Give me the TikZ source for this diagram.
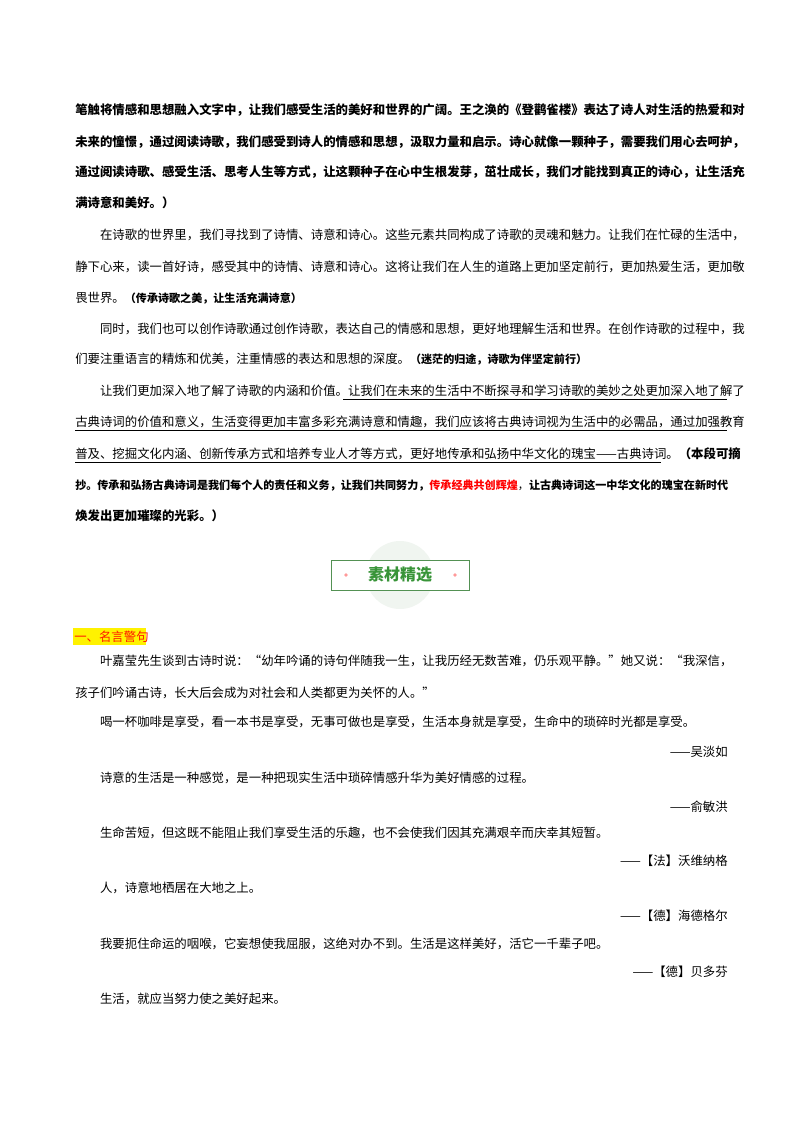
\documentclass[tikz,border=0pt]{standalone}
\usepackage{fontspec}
\setmainfont{Noto Sans CJK SC}
\XeTeXlinebreaklocale "zh"
\XeTeXlinebreakskip=0pt plus 2pt minus 0.2pt
\newcommand\FL[2]{\node[anchor=base west,inner sep=0pt] at (75,#1) {\hbox to 489.75pt{#2}};}
\newcommand\PL[2]{\node[anchor=base west,inner sep=0pt] at (75,#1) {#2};}
\newcommand\AU[2]{\node[anchor=base east,inner sep=0pt] at (728,#1) {#2};}
\begin{document}
\begin{tikzpicture}[x=0.75pt,y=-0.75pt,every node/.style={font=\fontsize{9.3pt}{11pt}\selectfont}]
\useasboundingbox[fill=white] (0,0) rectangle (800,1132);
% paragraph 1 (bold)
\FL{114}{\bfseries 笔触将情感和思想融入文字中，让我们感受生活的美好和世界的广阔。王之涣的《登鹳雀楼》表达了诗人对生活的热爱和对}
\FL{146}{\bfseries 未来的憧憬，通过阅读诗歌，我们感受到诗人的情感和思想，汲取力量和启示。诗心就像一颗种子，需要我们用心去呵护，}
\FL{176}{\bfseries 通过阅读诗歌、感受生活、思考人生等方式，让这颗种子在心中生根发芽，茁壮成长，我们才能找到真正的诗心，让生活充}
\PL{207}{\bfseries 满诗意和美好。）}
% paragraph 2
\FL{239}{\hskip 2em 在诗歌的世界里，我们寻找到了诗情、诗意和诗心。这些元素共同构成了诗歌的灵魂和魅力。让我们在忙碌的生活中，}
\FL{271}{静下心来，读一首好诗，感受其中的诗情、诗意和诗心。这将让我们在人生的道路上更加坚定前行，更加热爱生活，更加敬}
\PL{302}{畏世界。{\bfseries\fontsize{8.3pt}{10pt}\selectfont （传承诗歌之美，让生活充满诗意）}}
% paragraph 3
\FL{333}{\hskip 2em 同时，我们也可以创作诗歌通过创作诗歌，表达自己的情感和思想，更好地理解生活和世界。在创作诗歌的过程中，我}
\PL{363}{们要注重语言的精炼和优美，注重情感的表达和思想的深度。{\bfseries\fontsize{8.3pt}{10pt}\selectfont （迷茫的归途，诗歌为伴坚定前行）}}
% paragraph 4
\FL{395}{\hskip 2em 让我们更加深入地了解了诗歌的内涵和价值。让我们在未来的生活中不断探寻和学习诗歌的美妙之处更加深入地了解了}
\FL{426}{古典诗词的价值和意义，生活变得更加丰富多彩充满诗意和情趣，我们应该将古典诗词视为生活中的必需品，通过加强教育}
\FL{458}{普及、挖掘文化内涵、创新传承方式和培养专业人才等方式，更好地传承和弘扬中华文化的瑰宝——古典诗词。\bfseries （本段可摘}
\FL{489}{\fontsize{8.3pt}{11pt}\selectfont\bfseries 抄。传承和弘扬古典诗词是我们每个人的责任和义务，让我们共同努力，\textcolor{red}{传承经典共创辉煌}\mdseries ，\bfseries 让古典诗词这一中华文化的瑰宝在新时代}
\PL{520}{\bfseries 焕发出更加璀璨的光彩。）}
\draw[line width=0.6pt] (343,399) -- (727,399);
\draw[line width=0.6pt] (75,430) -- (727,430);
\draw[line width=0.6pt] (75,462) -- (661,462);
% heading
\fill[green!35!black,opacity=0.06] (400,575) circle (34);
\node[draw=black!30!green!35!gray,line width=0.7pt,fill=white,minimum width=103.5pt,minimum height=22.5pt,inner sep=0pt] (hd) at (400,575) {};
\node[text=green!45!gray!80!black,font=\fontsize{12pt}{14pt}\selectfont\bfseries] (ht) at (400,575) {素材精选};
\fill[red!40] (346,575) circle (1.8);
\fill[red!40] (455,575) circle (1.8);
% section title
\fill[yellow] (73,628) rectangle (146,645);
\node[anchor=base west,inner sep=0pt,text=red!80!orange] (st) at (74,641) {一、名言警句};
% quotes
\FL{665}{\hskip 2em 叶嘉莹先生谈到古诗时说：“幼年吟诵的诗句伴随我一生，让我历经无数苦难，仍乐观平静。”她又说：“我深信，}
\PL{697}{孩子们吟诵古诗，长大后会成为对社会和人类都更为关怀的人。”}
\PL{726}{\hskip 2em 喝一杯咖啡是享受，看一本书是享受，无事可做也是享受，生活本身就是享受，生命中的琐碎时光都是享受。}
\AU{756}{——吴淡如}
\PL{782}{\hskip 2em 诗意的生活是一种感觉，是一种把现实生活中琐碎情感升华为美好情感的过程。}
\AU{811}{——俞敏洪}
\PL{837}{\hskip 2em 生命苦短，但这既不能阻止我们享受生活的乐趣，也不会使我们因其充满艰辛而庆幸其短暂。}
\AU{865}{——【法】沃维纳格}
\PL{892}{\hskip 2em 人，诗意地栖居在大地之上。}
\AU{920}{——【德】海德格尔}
\PL{948}{\hskip 2em 我要扼住命运的咽喉，它妄想使我屈服，这绝对办不到。生活是这样美好，活它一千辈子吧。}
\AU{976}{——【德】贝多芬}
\PL{1003}{\hskip 2em 生活，就应当努力使之美好起来。}
\end{tikzpicture}
\end{document}
